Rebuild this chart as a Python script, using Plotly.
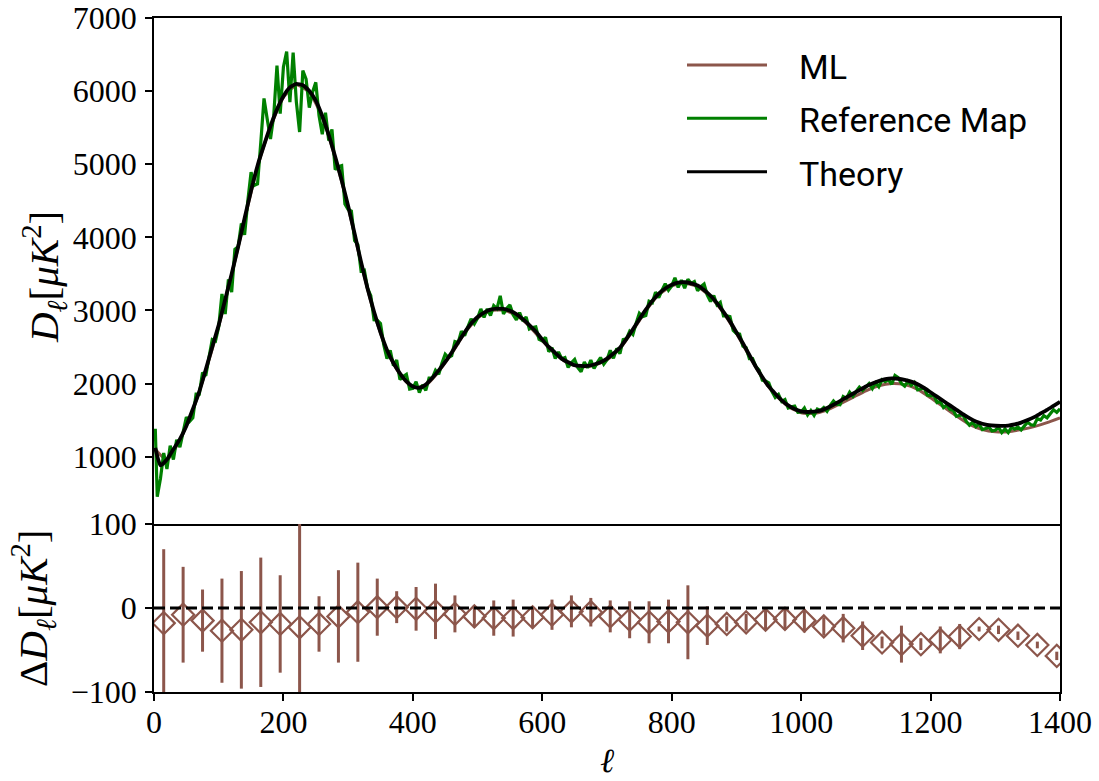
import plotly.graph_objects as go

# ---------------- data ----------------
ell_theory = [2] + list(range(10, 1401, 10))
theory = [
    1120,
    880, 960, 1100, 1240, 1420, 1650, 1890, 2190, 2500, 2800,
    3150, 3500, 3870, 4260, 4640, 4980, 5260, 5520, 5750, 5930,
    6050, 6100, 6080, 6000, 5870, 5660, 5400, 5100, 4780, 4430,
    4050, 3660, 3300, 2980, 2700, 2460, 2280, 2140, 2030, 1960,
    1940, 1985, 2075, 2180, 2295, 2425, 2565, 2700, 2820, 2910,
    2970, 3010, 3025, 3020, 2995, 2950, 2880, 2800, 2710, 2600,
    2500, 2420, 2340, 2290, 2250, 2240, 2240, 2260, 2290, 2340,
    2410, 2490, 2610, 2740, 2880, 3010, 3130, 3230, 3300, 3350,
    3380, 3385, 3370, 3340, 3280, 3200, 3100, 2980, 2850, 2700,
    2550, 2390, 2230, 2090, 1960, 1860, 1770, 1700, 1650, 1620,
    1610, 1615, 1630, 1665, 1710, 1760, 1810, 1860, 1910, 1960,
    2000, 2035, 2060, 2070, 2065, 2050, 2025, 1990, 1940, 1880,
    1820, 1760, 1700, 1640, 1580, 1525, 1480, 1450, 1430, 1422,
    1420, 1425, 1440, 1465, 1500, 1540, 1590, 1640, 1695, 1750,
]

ell_ml = [2] + list(range(20, 1401, 20))
ml = [
    1100,
    950, 1225, 1635, 2175, 2785,
    3485, 4245, 4965, 5505, 5915,
    6085, 5985, 5645, 5085, 4415,
    3645, 2965, 2445, 2125, 1945,
    1975, 2165, 2410, 2690, 2895,
    2995, 3005, 2935, 2785, 2585,
    2405, 2275, 2225, 2245, 2325,
    2475, 2725, 2995, 3215, 3335,
    3370, 3325, 3185, 2965, 2685,
    2375, 2075, 1845, 1685, 1600,
    1590, 1635, 1720, 1810, 1900,
    1970, 2000, 1985, 1920, 1805,
    1680, 1555, 1440, 1370, 1340,
    1340, 1370, 1410, 1465, 1530,
]

ell_ref = [2] + list(range(5, 1401, 5))
ref_map = [
    1380,
    450, 700, 1050, 830, 1150, 960, 1230, 1130, 1355, 1540,
    1480, 1530, 1855, 1855, 2150, 2105, 2360, 2600, 2580, 2775,
    3225, 2950, 3425, 3250, 3835, 3870, 4190, 4035, 4500, 4890,
    4710, 4730, 5295, 5900, 5615, 5345, 5660, 6350, 5690, 6330,
    6540, 5850, 6525, 5850, 5440, 6280, 6165, 5775, 5985, 6120,
    5665, 5410, 5705, 5325, 5475, 4925, 4965, 4980, 4455, 4380,
    4360, 3955, 3900, 3540, 3550, 3300, 3200, 2870, 2865, 2820,
    2530, 2340, 2455, 2245, 2320, 2055, 2095, 2125, 1925, 1935,
    2025, 1875, 1980, 1905, 2075, 2075, 2180, 2125, 2280, 2400,
    2355, 2380, 2575, 2560, 2715, 2655, 2775, 2885, 2815, 2895,
    3020, 2905, 3020, 2930, 3065, 3025, 3200, 2950, 3025, 3075,
    2940, 2870, 2970, 2855, 2910, 2745, 2765, 2775, 2605, 2585,
    2630, 2435, 2490, 2340, 2430, 2340, 2355, 2220, 2285, 2330,
    2215, 2160, 2295, 2215, 2320, 2205, 2285, 2355, 2265, 2325,
    2455, 2345, 2480, 2410, 2600, 2610, 2715, 2670, 2825, 2960,
    2915, 2930, 3125, 3105, 3250, 3175, 3275, 3365, 3275, 3335,
    3445, 3315, 3415, 3305, 3425, 3370, 3395, 3270, 3325, 3360,
    3210, 3120, 3205, 3075, 3110, 2925, 2925, 2915, 2725, 2685,
    2675, 2510, 2490, 2340, 2340, 2230, 2185, 2045, 2035, 2010,
    1890, 1810, 1850, 1755, 1780, 1665, 1680, 1690, 1605, 1610,
    1665, 1570, 1630, 1565, 1650, 1630, 1670, 1620, 1700, 1760,
    1715, 1710, 1820, 1795, 1880, 1825, 1890, 1950, 1905, 1950,
    2000, 1930, 2010, 1955, 2050, 2025, 2055, 1990, 2110, 2080,
    2000, 1965, 2030, 1975, 2015, 1915, 1930, 1940, 1840, 1830,
    1840, 1740, 1755, 1670, 1705, 1645, 1635, 1550, 1565, 1570,
    1485, 1430, 1470, 1410, 1445, 1370, 1385, 1405, 1350, 1360,
    1400, 1330, 1380, 1330, 1400, 1375, 1405, 1365, 1420, 1470,
    1435, 1430, 1520, 1500, 1560, 1530, 1585, 1640, 1605, 1655,
]

ell_bins = list(range(15, 1400, 30))
delta = [
    -18, -8, -15, -27, -26, -17, -19, -23, -19, -10,
    -5, 1, 1, -1, -4, -7, -10, -12, -12, -11,
    -8, -4, -5, -10, -14, -17, -16, -17, -21, -19,
    -17, -14, -13, -15, -22, -24, -33, -41, -43, -43,
    -38, -34, -25, -26, -33, -44, -57,
]
delta_err = [
    88, 57, 37, 62, 70, 77, 58, 130, 33, 55,
    59, 34, 19, 26, 33, 22, 13, 21, 22, 13,
    18, 19, 17, 19, 22, 25, 26, 44, 23, 9,
    10, 13, 13, 14, 11, 17, 17, 7, 22, 7,
    16, 15, 3, 5, 5, 4, 5,
]

legend_names = ["ML", "Reference Map", "Theory"]
x_ticks = list(range(0, 1401, 200))
y_ticks_top = list(range(1000, 7001, 1000))
y_ticks_bottom = [-100, 0, 100]

# ---------------- style ----------------
BROWN = "#8c564b"
GREEN = "#008000"
BLACK = "#000000"
SERIF = "Liberation Serif, DejaVu Serif, serif"
SANS = "Roboto, Lato, DejaVu Sans, sans-serif"

W, H = 1099, 781
ML_, MR_, MT_, MB_ = 154, 39, 18, 89
PW = W - ML_ - MR_
PH = H - MT_ - MB_
split = 168 / PH


def px_x(px):
    return (px - ML_) / PW


def px_y(py):
    return (H - MB_ - py) / PH


fig = go.Figure()
fig.add_trace(go.Scatter(x=ell_ml, y=ml, mode="lines", name=legend_names[0],
                         line=dict(color=BROWN, width=3, shape="spline", smoothing=0.5),
                         xaxis="x", yaxis="y", showlegend=False))
fig.add_trace(go.Scatter(x=ell_ref, y=ref_map, mode="lines", name=legend_names[1],
                         line=dict(color=GREEN, width=3.2),
                         xaxis="x", yaxis="y", showlegend=False))
fig.add_trace(go.Scatter(x=ell_theory, y=theory, mode="lines", name=legend_names[2],
                         line=dict(color=BLACK, width=3.8, shape="spline", smoothing=0.5),
                         xaxis="x", yaxis="y", showlegend=False))
fig.add_trace(go.Scatter(x=ell_bins, y=delta, mode="markers", name="residual",
                         marker=dict(symbol="diamond-open", size=17, color=BROWN,
                                     line=dict(width=2.2, color=BROWN)),
                         error_y=dict(type="data", array=delta_err, color=BROWN,
                                      thickness=3, width=0),
                         xaxis="x2", yaxis="y2", showlegend=False))

axis_common = dict(showline=True, linecolor=BLACK, linewidth=1.6,
                   showgrid=False, zeroline=False, automargin=False,
                   tickfont=dict(family=SERIF, size=32, color=BLACK))
tick_common = dict(ticks="outside", ticklen=7, tickwidth=1.6, tickcolor=BLACK)

fig.update_layout(
    width=W, height=H,
    margin=dict(l=ML_, r=MR_, t=MT_, b=MB_, autoexpand=False),
    paper_bgcolor="white", plot_bgcolor="white",
    xaxis=dict(domain=[0, 1], anchor="y", range=[0, 1400], showticklabels=False,
               ticks="", matches="x2", mirror=True, **axis_common),
    yaxis=dict(domain=[split, 1], anchor="x", range=[78, 7000], tickvals=y_ticks_top,
               ticklabelstandoff=2, mirror=True, **tick_common, **axis_common),
    xaxis2=dict(domain=[0, 1], anchor="y2", range=[0, 1400], tickvals=x_ticks,
                ticklabelstandoff=-6, mirror=False, **tick_common, **axis_common),
    yaxis2=dict(domain=[0, split], anchor="x2", range=[-100, 100], tickvals=y_ticks_bottom,
                ticklabelstandoff=2, mirror=True, **tick_common, **axis_common),
)

# zero line in residual panel
fig.add_shape(type="line", xref="x2", yref="y2", x0=0, x1=1400, y0=0, y1=0,
              line=dict(color=BLACK, width=3, dash="11px,5px"))

# manual legend
legend_rows = [(65, BROWN), (118.3, GREEN), (171.7, BLACK)]
for name, (py, col) in zip(legend_names, legend_rows):
    fig.add_shape(type="line", xref="paper", yref="paper",
                  x0=px_x(687), x1=px_x(767), y0=px_y(py), y1=px_y(py),
                  line=dict(color=col, width=3))
    fig.add_annotation(x=px_x(797), y=px_y(py + 2), xref="paper", yref="paper",
                       text=name, showarrow=False, xanchor="left", yanchor="middle",
                       font=dict(family=SANS, size=34, color=BLACK))

# axis titles
fig.add_annotation(x=px_x(44), y=px_y(277), xref="paper", yref="paper",
                   text="<i>D</i><sub><i>ℓ</i></sub>[<i>μK</i><sup>2</sup>]",
                   textangle=-90, showarrow=False, xanchor="center", yanchor="middle",
                   font=dict(family=SERIF, size=41, color=BLACK))
fig.add_annotation(x=px_x(33), y=px_y(608), xref="paper", yref="paper",
                   text="Δ<i>D</i><sub><i>ℓ</i></sub>[<i>μK</i><sup>2</sup>]",
                   textangle=-90, showarrow=False, xanchor="center", yanchor="middle",
                   font=dict(family=SERIF, size=41, color=BLACK))
fig.add_annotation(x=px_x(607), y=px_y(760), xref="paper", yref="paper",
                   text="<i>ℓ</i>", showarrow=False, xanchor="center", yanchor="middle",
                   font=dict(family=SERIF, size=34, color=BLACK))

fig.write_html("out.html")
